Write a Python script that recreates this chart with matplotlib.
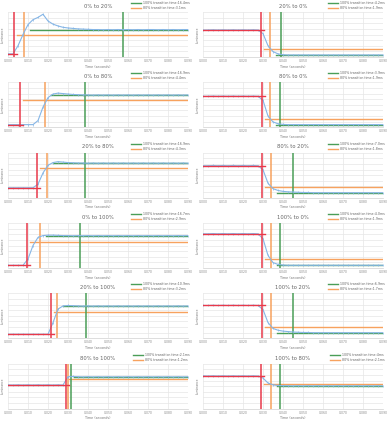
import numpy as np
import matplotlib
matplotlib.use("Agg")
import matplotlib.pyplot as plt

# time samples (s)
time = [i * 0.0025 for i in range(37)]
x_ticks = [0.00, 0.01, 0.02, 0.03, 0.04, 0.05, 0.06, 0.07, 0.08, 0.09]

titles = ["0% to 20%", "20% to 0%", "0% to 80%", "80% to 0%", "20% to 80%", "80% to 20%",
          "0% to 100%", "100% to 0%", "20% to 100%", "100% to 20%", "80% to 100%", "100% to 80%"]
t100 = ["16.4ms", "4.2ms", "16.9ms", "3.9ms", "16.9ms", "7.0ms",
        "16.7ms", "4.0ms", "10.9ms", "6.9ms", "2.1ms", "4ms"]
t80 = ["3.1ms", "1.9ms", "4.4ms", "1.9ms", "4.3ms", "1.8ms",
       "2.9ms", "1.9ms", "3.2ms", "1.7ms", "1.2ms", "2.1ms"]

# response curves (normalised luminance)
lum_0_20 = [0.07, 0.07, 0.25, 0.50, 0.72, 0.83, 0.88, 0.95, 0.80, 0.73, 0.69, 0.66, 0.645, 0.635, 0.625, 0.62,
            0.615, 0.61, 0.61, 0.605, 0.61, 0.605, 0.61, 0.605, 0.61, 0.605, 0.61, 0.605, 0.61, 0.61, 0.605, 0.61,
            0.605, 0.61, 0.605, 0.61, 0.61]
lum_20_0 = [0.60, 0.60, 0.605, 0.60, 0.605, 0.60, 0.605, 0.60, 0.605, 0.60, 0.605, 0.60, 0.52, 0.25, 0.12, 0.07,
            0.05, 0.045, 0.045, 0.045, 0.045, 0.045, 0.045, 0.045, 0.045, 0.045, 0.045, 0.045, 0.045, 0.045, 0.045,
            0.045, 0.045, 0.045, 0.045, 0.045, 0.045]
lum_0_80 = [0.06, 0.06, 0.06, 0.06, 0.06, 0.06, 0.15, 0.45, 0.66, 0.74, 0.76, 0.75, 0.74, 0.73, 0.725, 0.72,
            0.72, 0.715, 0.72, 0.715, 0.72, 0.715, 0.72, 0.715, 0.72, 0.715, 0.72, 0.715, 0.72, 0.715, 0.72, 0.715,
            0.72, 0.715, 0.72, 0.715, 0.72]
lum_80_0 = [0.69, 0.69, 0.695, 0.69, 0.695, 0.69, 0.695, 0.69, 0.695, 0.69, 0.695, 0.69, 0.60, 0.25, 0.12, 0.08,
            0.065, 0.06, 0.06, 0.06, 0.06, 0.06, 0.06, 0.06, 0.06, 0.06, 0.06, 0.06, 0.06, 0.06, 0.06,
            0.06, 0.06, 0.06, 0.06, 0.06, 0.06]
lum_20_80 = [0.22, 0.22, 0.22, 0.22, 0.22, 0.22, 0.30, 0.55, 0.72, 0.78, 0.80, 0.79, 0.78, 0.775, 0.77, 0.77,
             0.765, 0.77, 0.765, 0.77, 0.765, 0.77, 0.765, 0.77, 0.765, 0.77, 0.765, 0.77, 0.765, 0.77, 0.765, 0.77,
             0.765, 0.77, 0.765, 0.77, 0.765]
lum_80_20 = [0.71, 0.71, 0.715, 0.71, 0.715, 0.71, 0.715, 0.71, 0.715, 0.71, 0.715, 0.71, 0.62, 0.32, 0.20, 0.16,
             0.14, 0.13, 0.125, 0.12, 0.115, 0.115, 0.11, 0.11, 0.11, 0.11, 0.11, 0.11, 0.11, 0.11, 0.11,
             0.11, 0.11, 0.11, 0.11, 0.11, 0.11]
lum_0_100 = [0.06, 0.06, 0.06, 0.06, 0.20, 0.50, 0.68, 0.72, 0.73, 0.73, 0.725, 0.72, 0.72, 0.715, 0.72, 0.715,
             0.72, 0.715, 0.72, 0.715, 0.72, 0.715, 0.72, 0.715, 0.72, 0.715, 0.72, 0.715, 0.72, 0.715, 0.72, 0.715,
             0.72, 0.715, 0.72, 0.715, 0.72]
lum_100_0 = [0.76, 0.76, 0.765, 0.76, 0.765, 0.76, 0.765, 0.76, 0.765, 0.76, 0.765, 0.76, 0.65, 0.28, 0.12, 0.08,
             0.065, 0.06, 0.06, 0.06, 0.06, 0.06, 0.06, 0.06, 0.06, 0.06, 0.06, 0.06, 0.06, 0.06, 0.06,
             0.06, 0.06, 0.06, 0.06, 0.06, 0.06]
lum_20_100 = [0.09, 0.09, 0.09, 0.09, 0.09, 0.09, 0.09, 0.09, 0.09, 0.35, 0.65, 0.72, 0.73, 0.725, 0.72, 0.715,
              0.72, 0.715, 0.72, 0.715, 0.72, 0.715, 0.72, 0.715, 0.72, 0.715, 0.72, 0.715, 0.72, 0.715, 0.72, 0.715,
              0.72, 0.715, 0.72, 0.715, 0.72]
lum_100_20 = [0.73, 0.73, 0.735, 0.73, 0.735, 0.73, 0.735, 0.73, 0.735, 0.73, 0.735, 0.73, 0.64, 0.35, 0.22, 0.18,
              0.16, 0.15, 0.14, 0.135, 0.13, 0.13, 0.125, 0.125, 0.125, 0.125, 0.125, 0.125, 0.125, 0.125, 0.125,
              0.125, 0.125, 0.125, 0.125, 0.125, 0.125]
lum_80_100 = [0.53, 0.525, 0.53, 0.525, 0.53, 0.525, 0.53, 0.525, 0.53, 0.525, 0.53, 0.525, 0.71, 0.715, 0.71, 0.705,
              0.71, 0.705, 0.71, 0.705, 0.71, 0.705, 0.71, 0.705, 0.71, 0.705, 0.71, 0.705, 0.71, 0.705, 0.71, 0.705,
              0.71, 0.705, 0.71, 0.705, 0.71]
lum_100_80 = [0.73, 0.725, 0.73, 0.725, 0.73, 0.725, 0.73, 0.725, 0.73, 0.725, 0.73, 0.725, 0.68, 0.57, 0.53, 0.515,
              0.51, 0.51, 0.505, 0.51, 0.505, 0.51, 0.505, 0.51, 0.505, 0.51, 0.505, 0.51, 0.505, 0.51, 0.505, 0.51,
              0.505, 0.51, 0.505, 0.51, 0.505]
curves = [lum_0_20, lum_20_0, lum_0_80, lum_80_0, lum_20_80, lum_80_20,
          lum_0_100, lum_100_0, lum_20_100, lum_100_20, lum_80_100, lum_100_80]

# marker lines: start level, onset time, 80% level, 80% time, final level, 100% time
start_level = [0.07, 0.60, 0.06, 0.69, 0.22, 0.71, 0.06, 0.76, 0.09, 0.73, 0.53, 0.73]
start_time = [0.003, 0.029, 0.006, 0.0295, 0.0145, 0.0295, 0.0095, 0.0295, 0.0215, 0.0295, 0.029, 0.029]
level80 = [0.50, 0.18, 0.60, 0.18, 0.67, 0.23, 0.58, 0.19, 0.58, 0.25, 0.67, 0.545]
time80 = [0.008, 0.0335, 0.0185, 0.0335, 0.0195, 0.034, 0.016, 0.034, 0.0245, 0.034, 0.030, 0.034]
final_level = [0.61, 0.045, 0.72, 0.06, 0.77, 0.11, 0.72, 0.06, 0.72, 0.125, 0.71, 0.51]
time100 = [0.0575, 0.039, 0.0385, 0.0385, 0.0385, 0.045, 0.036, 0.0385, 0.039, 0.045, 0.0315, 0.0385]

RED = "#e8394a"
ORANGE = "#f7a25e"
GREEN = "#4a9e57"
BLUE = "#86b6e6"

W, H = 390, 422
fig = plt.figure(figsize=(W / 100, H / 100), dpi=100)
ph = H / 6.0
for k in range(12):
    r, c = divmod(k, 2)
    left = (c * 195 + 8) / W
    bottom = 1 - (r * ph + 57) / H
    ax = fig.add_axes([left, bottom, 180 / W, 45 / H])
    ax.set_xlim(0, 0.09)
    ax.set_ylim(0, 1)
    ax.set_xticks(x_ticks)
    ax.set_xticklabels(["%.3f" % v for v in x_ticks], fontsize=2.2, color="#888888")
    ax.set_yticks(np.arange(0, 1.01, 0.125))
    ax.set_yticklabels([])
    ax.tick_params(length=0, pad=1.5)
    ax.grid(True, color="#e6e6e6", linewidth=0.5)
    for s in ax.spines.values():
        s.set_visible(False)
    ax.spines["bottom"].set_visible(True)
    ax.spines["bottom"].set_color("#d0d0d0")
    ax.spines["bottom"].set_linewidth(0.5)
    ax.set_axisbelow(True)

    ax.plot(time, curves[k], color=BLUE, linewidth=0.8, marker="|", markersize=1.8,
            markeredgewidth=0.5, zorder=3)
    # start level and onset
    ax.plot([0, start_time[k] + 0.0015], [start_level[k]] * 2, color=RED, linewidth=1.0, zorder=4)
    ax.axvline(start_time[k], color=RED, linewidth=1.1, zorder=4)
    # 80% lines
    l80, = ax.plot([start_time[k] + 0.0015, 0.09], [level80[k]] * 2, color=ORANGE, linewidth=1.0, zorder=2)
    ax.axvline(time80[k], color=ORANGE, linewidth=1.1, zorder=2)
    # 100% lines
    l100, = ax.plot([time80[k] + 0.003, 0.09], [final_level[k]] * 2, color=GREEN, linewidth=1.0, zorder=2)
    ax.axvline(time100[k], color=GREEN, linewidth=1.1, zorder=2)

    ax.set_title(titles[k], fontsize=3.8, color="#666666", pad=3)
    ax.set_xlabel("Time (seconds)", fontsize=2.4, color="#777777", labelpad=1.2)
    ax.set_ylabel("Luminance", fontsize=2.2, color="#777777", labelpad=1)
    ax.legend([l100, l80], ["100% transition time:" + t100[k], "80% transition time:" + t80[k]],
              loc="lower right", bbox_to_anchor=(1.02, 1.0), fontsize=2.3, frameon=False,
              handlelength=3, handletextpad=0.6, borderpad=0.1, labelspacing=0.3, labelcolor="#666666")

fig.savefig("out.png", dpi=100, facecolor="white")
